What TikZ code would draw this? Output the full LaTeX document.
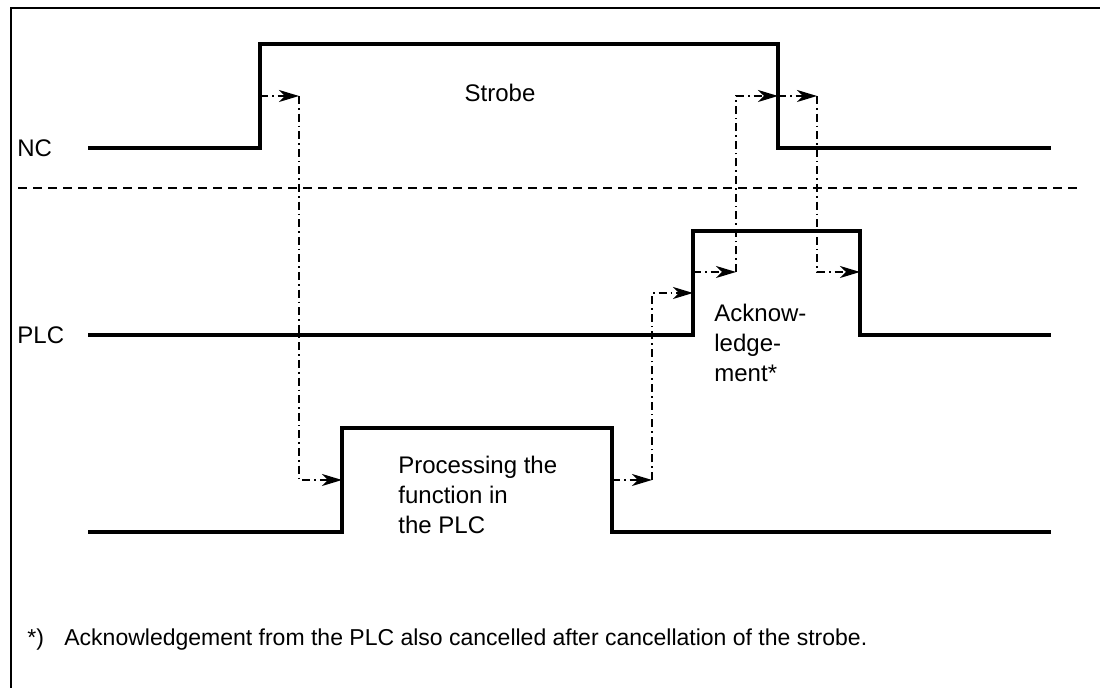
\documentclass[tikz,border=0pt]{standalone}
\usepackage{fontspec}
\setmainfont{Liberation Sans}
\usetikzlibrary{arrows.meta}
\tikzset{
  frameline/.style={line width=1pt},
  signal/.style={line width=2pt, line join=miter, line cap=rect},
  sep/.style={line width=0.8pt, dash pattern=on 4.5pt off 3pt},
  flow/.style={line width=0.7pt, dash pattern=on 4pt off 2pt on 0.8pt off 2pt},
  flowarrow/.style={flow, -{Stealth[length=10pt,width=6pt,inset=3pt]}},
  lbl/.style={font=\fontsize{12}{15}\selectfont, inner sep=0pt},
  footlbl/.style={font=\fontsize{11.5}{14}\selectfont, inner sep=0pt},
}
\begin{document}
\begin{tikzpicture}[x=0.5pt,y=-0.5pt]
\useasboundingbox (0,0) rectangle (1100,688);
% frame
\draw[frameline] (1100,8.5) -- (10.5,8.5) -- (10.5,688);
% coordinates of the signals
\coordinate (nc0) at (90,148);   \coordinate (ncR0) at (260,148);
\coordinate (ncR1) at (260,44);  \coordinate (ncF1) at (778,44);
\coordinate (ncF0) at (778,148); \coordinate (nc1) at (1049,148);
\coordinate (plc0) at (90,335);  \coordinate (plcR0) at (693,335);
\coordinate (plcR1) at (693,231); \coordinate (plcF1) at (860,231);
\coordinate (plcF0) at (860,335); \coordinate (plc1) at (1049,335);
\coordinate (pr0) at (90,532);   \coordinate (prR0) at (342,532);
\coordinate (prR1) at (342,428); \coordinate (prF1) at (612,428);
\coordinate (prF0) at (612,532); \coordinate (pr1) at (1049,532);
% signals
\draw[signal] (nc0) -- (ncR0) -- (ncR1) -- (ncF1) -- (ncF0) -- (nc1);
\draw[signal] (plc0) -- (plcR0) -- (plcR1) -- (plcF1) -- (plcF0) -- (plc1);
\draw[signal] (pr0) -- (prR0) -- (prR1) -- (prF1) -- (prF0) -- (pr1);
% separator
\coordinate (sepL) at (18,188); \coordinate (sepR) at (1080,188);
\draw[sep] (sepL) -- (sepR);
% labels
\node[lbl, anchor=west] (nclbl) at (17,148) {NC};
\node[lbl, anchor=west] (plclbl) at (17,335) {PLC};
\node[lbl] (strobe) at (500,93) {Strobe};
\node[lbl, anchor=north west, align=left] (proc) at (398,456) {Processing the\\function in\\the PLC};
\node[lbl, anchor=north west, align=left] (ack) at (714,304) {Acknow-\\ledge-\\ment*};
\node[footlbl, anchor=west] (star) at (27,640) {*)};
\node[footlbl, anchor=west] (foot) at (64,640) {Acknowledgement from the PLC also cancelled after cancellation of the strobe.};
% handshake arrows
\coordinate (a1s) at (260,96);  \coordinate (a1c) at (299,96);
\coordinate (a1d) at (299,480); \coordinate (a1e) at (342,480);
\coordinate (a2s) at (612,480); \coordinate (a2c) at (652,480);
\coordinate (a2d) at (652,293); \coordinate (a2e) at (693,293);
\coordinate (a3s) at (693,272); \coordinate (a3c) at (736,272);
\coordinate (a3d) at (736,96);  \coordinate (a3e) at (778,96);
\coordinate (a4s) at (778,96);  \coordinate (a4c) at (817,96);
\coordinate (a4d) at (817,272); \coordinate (a4e) at (860,272);
\draw[flowarrow] (a1s) -- (a1c);
\draw[flowarrow] (a1c) -- (a1d) -- (a1e);
\draw[flowarrow] (a2s) -- (a2c);
\draw[flowarrow] (a2c) -- (a2d) -- (a2e);
\draw[flowarrow] (a3s) -- (a3c);
\draw[flowarrow] (a3c) -- (a3d) -- (a3e);
\draw[flowarrow] (a4s) -- (a4c);
\draw[flowarrow] (a4c) -- (a4d) -- (a4e);
\end{tikzpicture}
\end{document}
